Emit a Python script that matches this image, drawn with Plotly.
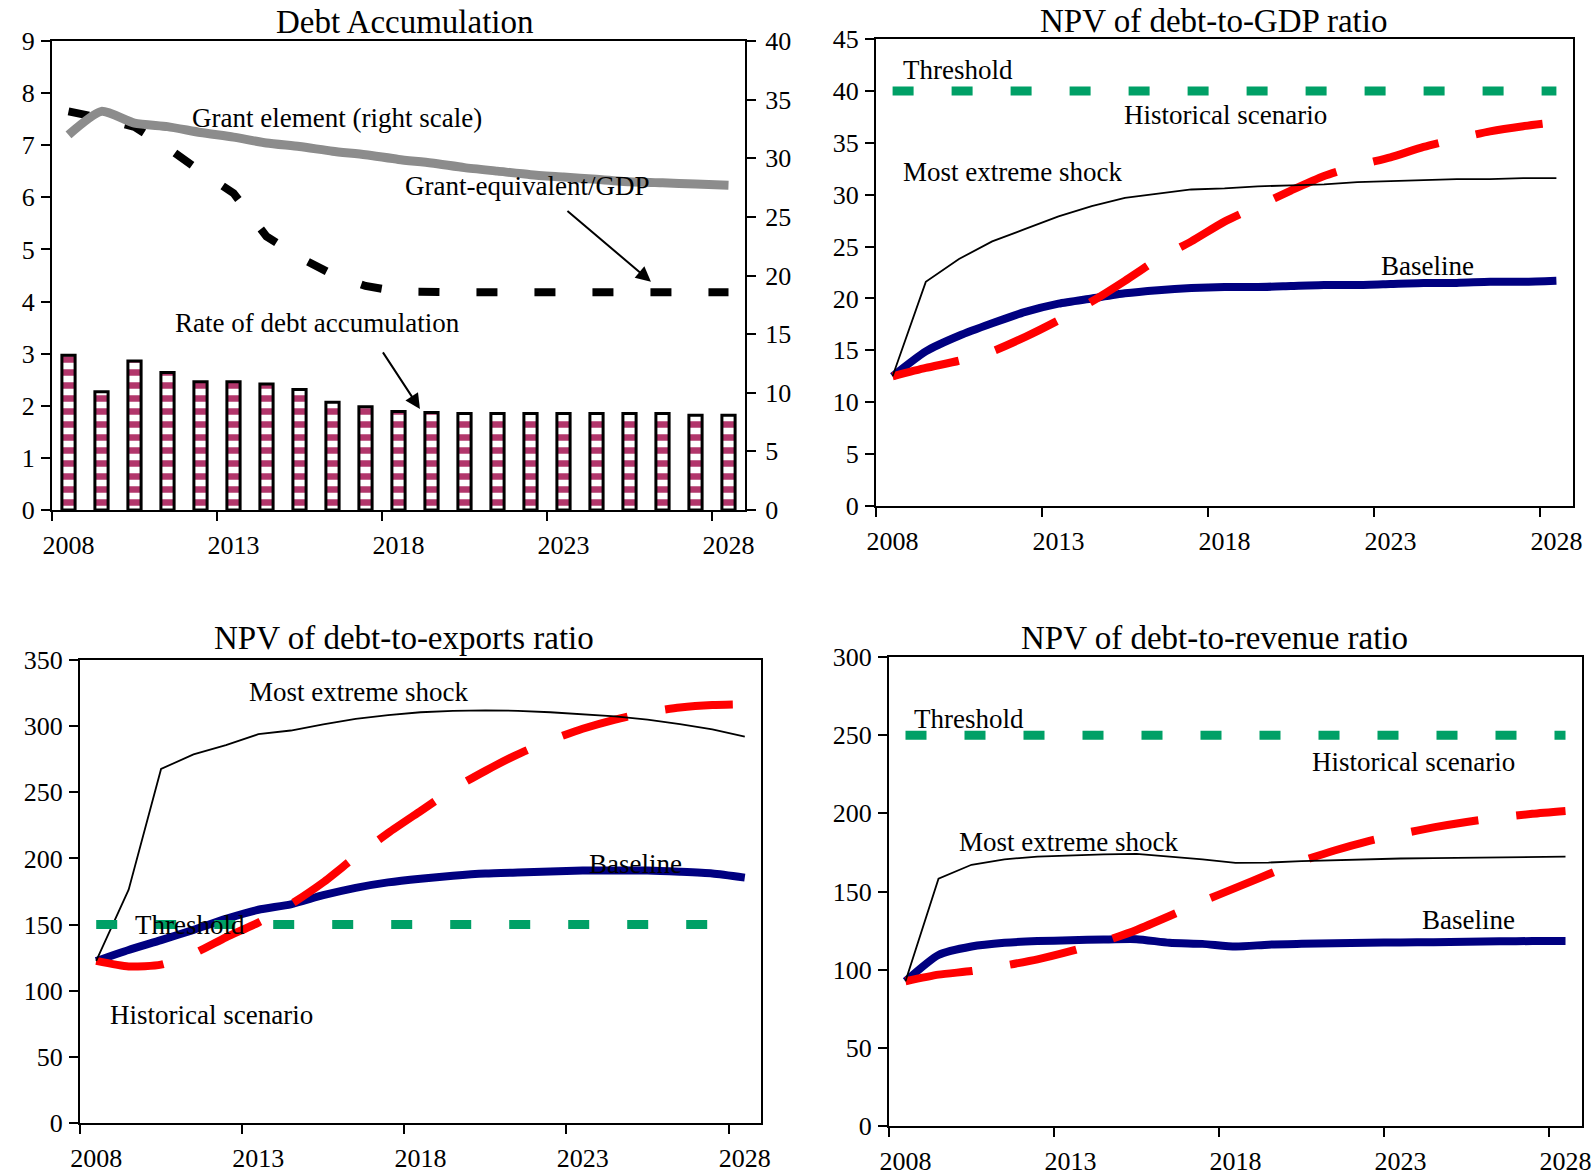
import plotly.graph_objects as go

W, H = 1594, 1175
FONT = "Liberation Serif"

# ---------------- data ----------------
years = list(range(2008, 2029))
tick_years = [2008, 2013, 2018, 2023, 2028]

# Debt accumulation panel
debt_accum_rate = [2.97, 2.27, 2.86, 2.64, 2.46, 2.46, 2.42, 2.31, 2.07, 1.98, 1.89,
                   1.87, 1.85, 1.85, 1.85, 1.85, 1.85, 1.85, 1.85, 1.82, 1.82]
grant_element = [32.0, 34.0, 33.0, 32.7, 32.2, 31.8, 31.3, 31.0, 30.6, 30.3, 29.9,
                 29.6, 29.2, 28.9, 28.6, 28.4, 28.2, 28.0, 27.9, 27.8, 27.7]
grant_equiv_gdp = [7.65, 7.52, 7.35, 6.95, 6.50, 6.08, 5.25, 4.85, 4.52, 4.30, 4.19,
                   4.17, 4.18, 4.18, 4.18, 4.18, 4.18, 4.18, 4.18, 4.18, 4.18]

# NPV of debt-to-GDP
gdp_threshold = 40
gdp_baseline = [12.5, 14.9, 16.4, 17.6, 18.7, 19.5, 20.0, 20.5, 20.8, 21.0, 21.1,
                21.1, 21.2, 21.3, 21.3, 21.4, 21.5, 21.5, 21.6, 21.6, 21.7]
gdp_historical = [12.5, 13.3, 14.0, 14.9, 16.3, 17.9, 19.7, 21.7, 23.8, 25.5, 27.4,
                  28.9, 30.4, 31.8, 32.8, 33.6, 34.6, 35.4, 36.1, 36.6, 37.0]
gdp_shock = [12.5, 21.6, 23.8, 25.5, 26.7, 27.9, 28.9, 29.7, 30.1, 30.5, 30.6,
             30.8, 30.9, 31.0, 31.2, 31.3, 31.4, 31.5, 31.5, 31.6, 31.6]

# NPV of debt-to-exports
exp_threshold = 150
exp_baseline = [122.5, 130.8, 138.2, 146.0, 154.3, 161.2, 165.3, 172.2, 177.8, 181.9, 184.7,
                186.9, 188.6, 189.4, 190.2, 190.8, 190.8, 190.8, 189.9, 188.6, 185.5]
exp_historical = [122.5, 118.3, 119.7, 128.0, 140.4, 151.5, 165.3, 181.9, 201.3, 219.2, 235.8,
                  252.4, 266.2, 278.7, 289.2, 298.0, 305.0, 310.5, 314.1, 316.0, 316.6]
exp_shock = [122.5, 176.4, 267.6, 278.7, 285.6, 293.9, 296.7, 301.4, 305.5, 308.3, 310.5,
             311.6, 311.9, 311.6, 310.5, 309.1, 307.4, 305.0, 301.6, 297.5, 292.0]

# NPV of debt-to-revenue
rev_threshold = 250
rev_baseline = [92.6, 109.4, 114.8, 117.2, 118.3, 118.8, 119.3, 119.5, 117.2, 116.5, 114.8,
                116.0, 116.5, 116.9, 117.2, 117.4, 117.6, 117.9, 118.1, 118.3, 118.3]
rev_historical = [92.6, 96.8, 99.1, 102.6, 106.6, 111.8, 117.9, 125.4, 134.3, 143.7, 152.3,
                  161.0, 169.4, 176.2, 182.1, 186.8, 191.0, 194.5, 197.3, 199.7, 201.5]
rev_shock = [92.6, 158.2, 167.1, 170.6, 172.3, 173.2, 173.7, 174.1, 172.3, 170.6, 168.3,
             168.5, 169.4, 170.1, 170.6, 171.1, 171.3, 171.5, 171.8, 172.0, 172.3]

# ---------------- styles ----------------
NAVY = "#000080"
RED = "#FF0000"
GREEN = "#00A066"
GRAY = "#8C8C8C"
MAGENTA = "#B2366B"


def dom_x(l, r):
    return [l / W, r / W]


def dom_y(top, bottom):
    return [1 - bottom / H, 1 - top / H]


def pp(xp, yp):
    return xp / W, 1 - yp / H


fig = go.Figure()

# ---- Panel 1: Debt accumulation ----
fig.add_trace(go.Bar(
    x=years, y=debt_accum_rate, xaxis="x", yaxis="y", width=0.4,
    marker=dict(color=MAGENTA, line=dict(color="black", width=3),
                pattern=dict(shape="-", fgcolor=MAGENTA, bgcolor="white",
                             size=13, solidity=0.5, fillmode="replace")),
    hoverinfo="skip"))
fig.add_trace(go.Scatter(
    x=years, y=grant_element, xaxis="x", yaxis="y2", mode="lines",
    line=dict(color=GRAY, width=9, shape="spline", smoothing=0.6)))
fig.add_trace(go.Scatter(
    x=years, y=grant_equiv_gdp, xaxis="x", yaxis="y", mode="lines",
    line=dict(color="black", width=8, dash="21px,37px")))


def add_npv(xa, ya, thr, base, hist, shock):
    fig.add_trace(go.Scatter(x=years, y=base, xaxis=xa, yaxis=ya, mode="lines",
                             line=dict(color=NAVY, width=8, shape="spline", smoothing=0.6)))
    fig.add_trace(go.Scatter(x=years, y=hist, xaxis=xa, yaxis=ya, mode="lines",
                             line=dict(color=RED, width=8, dash="68px,38px",
                                       shape="spline", smoothing=0.6)))
    fig.add_trace(go.Scatter(x=years, y=shock, xaxis=xa, yaxis=ya, mode="lines",
                             line=dict(color="black", width=1.8)))
    fig.add_trace(go.Scatter(x=years, y=[thr] * len(years), xaxis=xa, yaxis=ya, mode="lines",
                             line=dict(color=GREEN, width=9, dash="21px,38px")))


add_npv("x2", "y3", gdp_threshold, gdp_baseline, gdp_historical, gdp_shock)
add_npv("x3", "y4", exp_threshold, exp_baseline, exp_historical, exp_shock)
add_npv("x4", "y5", rev_threshold, rev_baseline, rev_historical, rev_shock)

tickfont = dict(family=FONT, size=26, color="black")
base_axis = dict(showline=True, linecolor="black", linewidth=2, showgrid=False,
                 zeroline=False, tickfont=tickfont, fixedrange=True, automargin=False)


def xaxis(domain, anchor):
    return dict(base_axis, domain=domain, anchor=anchor, range=[2007.5, 2028.5],
                tickmode="array", tickvals=tick_years, ticks="", mirror=True,
                ticklabelstandoff=11,
                minor=dict(ticks="outside", tickvals=[y - 0.5 for y in tick_years],
                           ticklen=9, tickwidth=2, tickcolor="black"))


def yaxis(domain, anchor, rng, dtick, mirror=True, standoff=1, **kw):
    d = dict(base_axis, domain=domain, anchor=anchor, range=rng, dtick=dtick,
             tick0=0, ticks="outside", ticklen=9, tickwidth=2, tickcolor="black",
             mirror=mirror, ticklabelstandoff=standoff)
    d.update(kw)
    return d


TL = (dom_x(52, 745), dom_y(41, 510))
TR = (dom_x(876, 1573), dom_y(39, 506))
BL = (dom_x(80, 761), dom_y(660, 1123))
BR = (dom_x(889, 1582), dom_y(657, 1126))

annotations = []


def txt(text, xp, yp, size=27):
    x, y = pp(xp, yp)
    annotations.append(dict(text=text, x=x, y=y, xref="paper", yref="paper",
                            xanchor="center", yanchor="middle", showarrow=False,
                            font=dict(family=FONT, size=size, color="black")))


# titles
txt("Debt Accumulation", 405, 22, 33)
txt("NPV of debt-to-GDP ratio", 1213, 21, 33)
txt("NPV of debt-to-exports ratio", 404, 638, 33)
txt("NPV of debt-to-revenue ratio", 1214, 638, 33)

# panel 1 labels
txt("Grant element (right scale)", 337, 118)
txt("Grant-equivalent/GDP", 527, 186)
txt("Rate of debt accumulation", 317, 323)
annotations.append(dict(text="", x=2025.65, y=4.38, xref="x", yref="y", ax=-85, ay=-72,
                        showarrow=True, arrowhead=2, arrowsize=1.5, arrowwidth=2,
                        arrowcolor="black"))
annotations.append(dict(text="", x=2018.65, y=1.94, xref="x", yref="y", ax=-38, ay=-58,
                        showarrow=True, arrowhead=2, arrowsize=1.5, arrowwidth=2,
                        arrowcolor="black"))

# panel 2 labels
txt("Threshold", 958, 70)
txt("Historical scenario", 1225, 115)
txt("Most extreme shock", 1012, 172)
txt("Baseline", 1427, 266)

# panel 3 labels
txt("Most extreme shock", 358, 692)
txt("Baseline", 635, 864)
txt("Threshold", 190, 925)
txt("Historical scenario", 211, 1015)

# panel 4 labels
txt("Threshold", 969, 719)
txt("Historical scenario", 1413, 762)
txt("Most extreme shock", 1068, 842)
txt("Baseline", 1468, 920)

fig.update_layout(
    width=W, height=H, margin=dict(l=0, r=0, t=0, b=0, autoexpand=False),
    paper_bgcolor="white", plot_bgcolor="white", showlegend=False,
    bargap=0.5,
    xaxis=xaxis(TL[0], "y"),
    yaxis=yaxis(TL[1], "x", [0, 9], 1, mirror=False),
    yaxis2=yaxis(TL[1], "x", [0, 40], 5, mirror=False, standoff=4,
                 overlaying="y", side="right"),
    xaxis2=xaxis(TR[0], "y3"),
    yaxis3=yaxis(TR[1], "x2", [0, 45], 5),
    xaxis3=xaxis(BL[0], "y4"),
    yaxis4=yaxis(BL[1], "x3", [0, 350], 50),
    xaxis4=xaxis(BR[0], "y5"),
    yaxis5=yaxis(BR[1], "x4", [0, 300], 50),
    annotations=annotations,
)

fig.write_html("out.html", config={"displayModeBar": False},
               post_script="document.body.style.margin='0';document.body.style.overflow='hidden';")
